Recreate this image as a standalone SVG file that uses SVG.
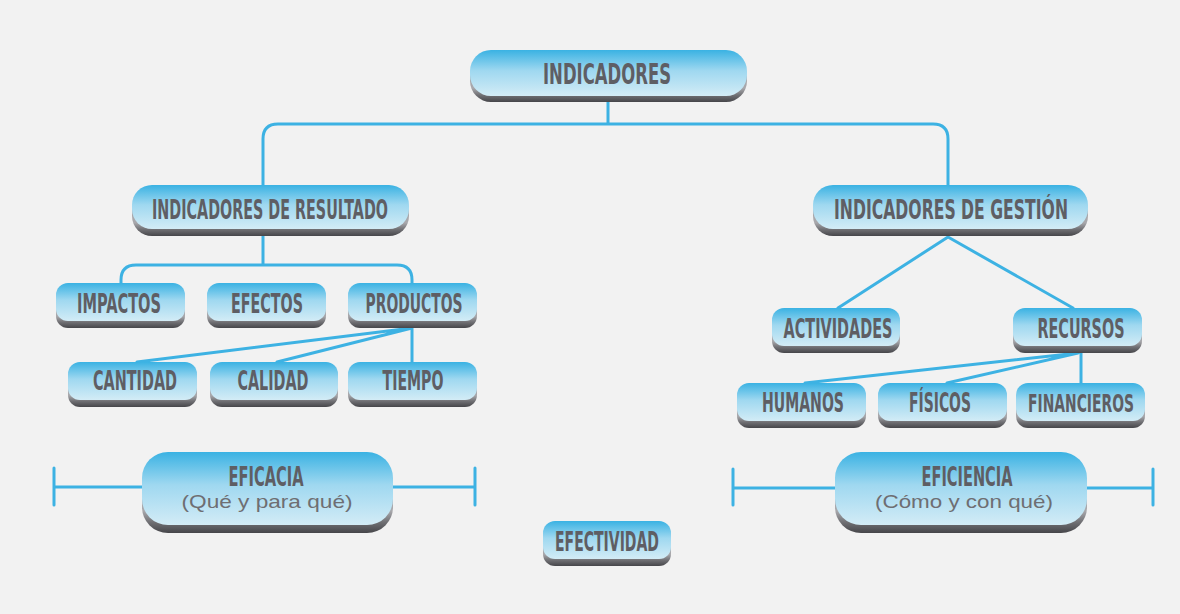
<svg xmlns="http://www.w3.org/2000/svg" width="1180" height="614" viewBox="0 0 1180 614">
<defs>
<linearGradient id="face" x1="0" y1="0" x2="0" y2="1">
<stop offset="0" stop-color="#3ab2e3"/>
<stop offset="0.45" stop-color="#9fd8f0"/>
<stop offset="1" stop-color="#d3ecf6"/>
</linearGradient>
<linearGradient id="shade" x1="0" y1="0" x2="0" y2="1">
<stop offset="0.7" stop-color="#a8a8ac"/>
<stop offset="0.85" stop-color="#707074"/>
<stop offset="1" stop-color="#46464a"/>
</linearGradient>
<style>
.sh{fill:url(#shade);}
.fc{fill:url(#face);}
.t{font-family:"DejaVu Sans Condensed","DejaVu Sans","Liberation Sans Narrow",sans-serif;font-weight:bold;font-stretch:condensed;fill:#5e5e64;text-anchor:middle;}
.s{font-family:"Liberation Sans","DejaVu Sans",sans-serif;fill:#6e6e72;text-anchor:middle;}
.c{fill:none;stroke:#3db2e3;stroke-width:3;stroke-linecap:round;stroke-linejoin:round;}
</style>
</defs>
<rect width="1180" height="614" fill="#f2f2f2"/>
<g id="connectors">
<path class="c" d="M608 100 V124 M608 124 H278 Q263 124 263 139 V186 M608 124 H933 Q948 124 948 139 V186"/>
<path class="c" d="M263 236 V265 M263 265 H136 Q121 265 121 280 V284 M263 265 H397 Q412 265 412 280 V284"/>
<path class="c" d="M412 328 L137 362 M412 328 L277 362 M412 328 V362"/>
<path class="c" d="M948 237 L838 308 M948 237 L1073 308"/>
<path class="c" d="M1078 353 L805 383 M1078 353 L947 383 M1081 353 V383"/>
<path class="c" d="M54 468 V505 M54 487 H142 M393 487 H475 M475 468 V505"/>
<path class="c" d="M733 469 V505 M733 488 H835 M1087 488 H1153 M1153 469 V505"/>
</g>
<g id="n-indicadores">
<rect class="sh" x="470" y="56" width="277" height="46" rx="21"/>
<rect class="fc" x="470" y="50" width="277" height="46" rx="21"/>
<text class="t" x="607" y="84" font-size="29" textLength="128" lengthAdjust="spacingAndGlyphs">INDICADORES</text>
</g>
<g id="n-resultado">
<rect class="sh" x="132" y="192" width="277" height="44" rx="20"/>
<rect class="fc" x="132" y="185" width="277" height="44" rx="20"/>
<text class="t" x="270" y="219" font-size="27" textLength="236" lengthAdjust="spacingAndGlyphs">INDICADORES DE RESULTADO</text>
</g>
<g id="n-gestion">
<rect class="sh" x="813" y="192" width="275" height="44" rx="20"/>
<rect class="fc" x="813" y="185" width="275" height="44" rx="20"/>
<text class="t" x="951" y="219" font-size="26" textLength="234" lengthAdjust="spacingAndGlyphs">INDICADORES DE GESTIÓN</text>
</g>
<g id="n-impactos">
<rect class="sh" x="56" y="289" width="129" height="39" rx="12"/>
<rect class="fc" x="56" y="283" width="129" height="38" rx="12"/>
<text class="t" x="119" y="313" font-size="26" textLength="84" lengthAdjust="spacingAndGlyphs">IMPACTOS</text>
</g>
<g id="n-efectos">
<rect class="sh" x="207" y="289" width="119" height="39" rx="12"/>
<rect class="fc" x="207" y="283" width="119" height="38" rx="12"/>
<text class="t" x="267" y="313" font-size="26" textLength="72" lengthAdjust="spacingAndGlyphs">EFECTOS</text>
</g>
<g id="n-productos">
<rect class="sh" x="348" y="289" width="129" height="39" rx="12"/>
<rect class="fc" x="348" y="283" width="129" height="38" rx="12"/>
<text class="t" x="414" y="313" font-size="26" textLength="97" lengthAdjust="spacingAndGlyphs">PRODUCTOS</text>
</g>
<g id="n-cantidad">
<rect class="sh" x="68" y="368" width="129" height="39" rx="12"/>
<rect class="fc" x="68" y="362" width="129" height="38" rx="12"/>
<text class="t" x="135" y="390" font-size="26" textLength="84" lengthAdjust="spacingAndGlyphs">CANTIDAD</text>
</g>
<g id="n-calidad">
<rect class="sh" x="210" y="368" width="128" height="39" rx="12"/>
<rect class="fc" x="210" y="362" width="128" height="38" rx="12"/>
<text class="t" x="273" y="390" font-size="26" textLength="71" lengthAdjust="spacingAndGlyphs">CALIDAD</text>
</g>
<g id="n-tiempo">
<rect class="sh" x="348" y="368" width="129" height="39" rx="12"/>
<rect class="fc" x="348" y="362" width="129" height="38" rx="12"/>
<text class="t" x="413" y="390" font-size="26" textLength="61" lengthAdjust="spacingAndGlyphs">TIEMPO</text>
</g>
<g id="n-actividades">
<rect class="sh" x="772" y="314" width="128" height="39" rx="12"/>
<rect class="fc" x="772" y="308" width="128" height="38" rx="12"/>
<text class="t" x="838" y="338" font-size="26" textLength="109" lengthAdjust="spacingAndGlyphs">ACTIVIDADES</text>
</g>
<g id="n-recursos">
<rect class="sh" x="1013" y="314" width="129" height="39" rx="12"/>
<rect class="fc" x="1013" y="308" width="129" height="38" rx="12"/>
<text class="t" x="1081" y="338" font-size="26" textLength="87" lengthAdjust="spacingAndGlyphs">RECURSOS</text>
</g>
<g id="n-humanos">
<rect class="sh" x="737" y="389" width="129" height="39" rx="12"/>
<rect class="fc" x="737" y="383" width="129" height="38" rx="12"/>
<text class="t" x="803" y="412" font-size="26" textLength="82" lengthAdjust="spacingAndGlyphs">HUMANOS</text>
</g>
<g id="n-fisicos">
<rect class="sh" x="878" y="389" width="129" height="39" rx="12"/>
<rect class="fc" x="878" y="383" width="129" height="38" rx="12"/>
<text class="t" x="940" y="412" font-size="26" textLength="62" lengthAdjust="spacingAndGlyphs">FÍSICOS</text>
</g>
<g id="n-financieros">
<rect class="sh" x="1016" y="389" width="129" height="39" rx="12"/>
<rect class="fc" x="1016" y="383" width="129" height="38" rx="12"/>
<text class="t" x="1081" y="412" font-size="25" textLength="106" lengthAdjust="spacingAndGlyphs">FINANCIEROS</text>
</g>
<g id="n-eficacia">
<rect class="sh" x="142" y="460" width="251" height="73" rx="26"/>
<rect class="fc" x="142" y="452" width="251" height="73" rx="26"/>
<text class="t" x="266" y="486" font-size="26" textLength="75" lengthAdjust="spacingAndGlyphs">EFICACIA</text>
<text class="s" x="267" y="508" font-size="19" textLength="171" lengthAdjust="spacingAndGlyphs">(Qué y para qué)</text>
</g>
<g id="n-eficiencia">
<rect class="sh" x="835" y="460" width="252" height="73" rx="26"/>
<rect class="fc" x="835" y="452" width="252" height="73" rx="26"/>
<text class="t" x="967" y="486" font-size="26" textLength="91" lengthAdjust="spacingAndGlyphs">EFICIENCIA</text>
<text class="s" x="964" y="508" font-size="19" textLength="178" lengthAdjust="spacingAndGlyphs">(Cómo y con qué)</text>
</g>
<g id="n-efectividad">
<rect class="sh" x="543" y="527" width="128" height="39" rx="12"/>
<rect class="fc" x="543" y="521" width="128" height="38" rx="12"/>
<text class="t" x="607" y="551" font-size="26" textLength="104" lengthAdjust="spacingAndGlyphs">EFECTIVIDAD</text>
</g>
</svg>
